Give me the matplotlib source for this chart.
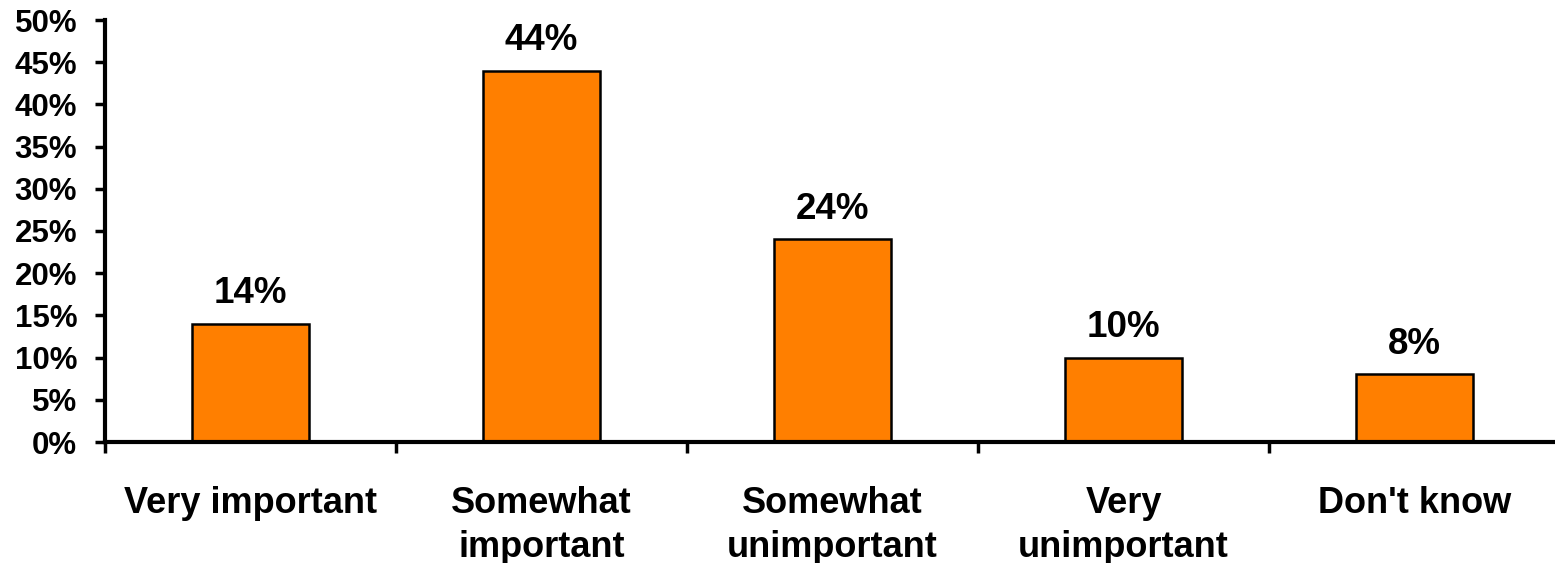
import matplotlib
matplotlib.use("Agg")
import matplotlib.pyplot as plt
from matplotlib.ticker import FixedLocator, FuncFormatter

plt.rcParams["font.family"] = ["Liberation Sans", "DejaVu Sans"]
plt.rcParams["font.weight"] = "bold"

categories = ["Very important", "Somewhat\nimportant", "Somewhat\nunimportant",
              "Very\nunimportant", "Don't know"]
values = [14, 44, 24, 10, 8]
y_ticks = [0, 5, 10, 15, 20, 25, 30, 35, 40, 45, 50]

fig = plt.figure(figsize=(15.55, 5.63), dpi=100)
ax = fig.add_axes([105 / 1555, 121 / 563, 1455 / 1555, 422 / 563])

x = list(range(len(categories)))
ax.bar(x, values, width=0.4, color="#FF7F00", edgecolor="black", linewidth=1.8, zorder=2)

for xi, v in zip(x, values):
    ax.annotate(f"{v}%", (xi, v), xytext=(0, 9), textcoords="offset points",
                ha="center", va="bottom", fontsize=26.5, fontweight="bold")

ax.set_xlim(-0.5, len(categories) - 0.5)
ax.set_ylim(0, 50)
ax.set_yticks(y_ticks)
ax.yaxis.set_major_formatter(FuncFormatter(lambda v, _: f"{v:.0f}%"))
ax.tick_params(axis="y", direction="out", length=7, width=2.5, pad=13, labelsize=22.5)

# category labels between tick marks at the bar boundaries
ax.set_xticks(x)
ax.set_xticklabels(categories, fontsize=26, fontweight="bold", linespacing=1.3)
ax.tick_params(axis="x", which="major", length=0, pad=32)
ax.xaxis.set_minor_locator(FixedLocator([i - 0.5 for i in range(len(categories) + 1)]))
ax.tick_params(axis="x", which="minor", direction="out", length=8, width=2.5)

for side in ("top", "right"):
    ax.spines[side].set_visible(False)
for side in ("left", "bottom"):
    ax.spines[side].set_linewidth(3)

fig.savefig("out.png", dpi=100)
